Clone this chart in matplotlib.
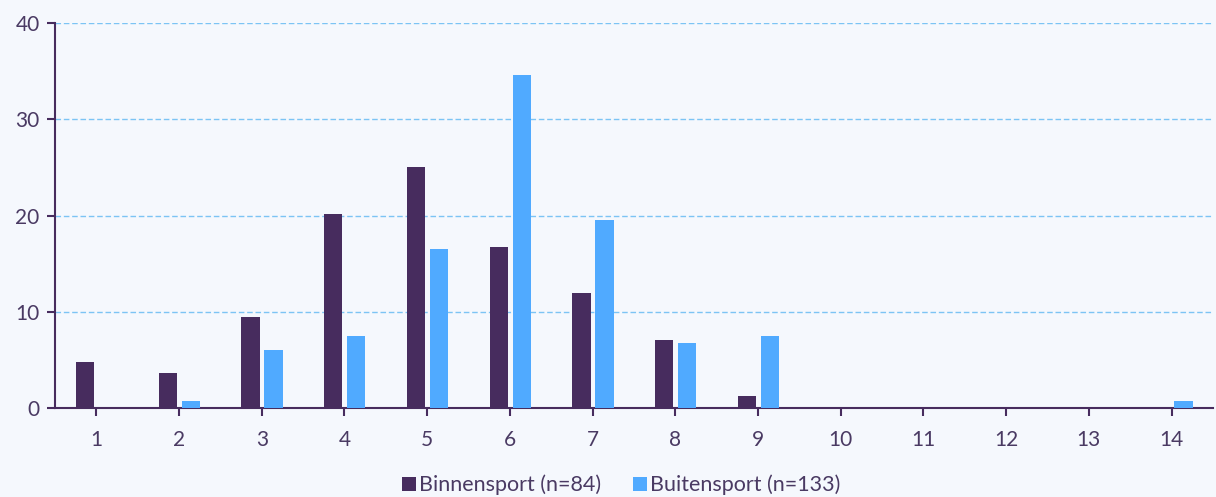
import matplotlib.pyplot as plt
import numpy as np

categorieen = list(range(1, 15))
binnensport = [4.8, 3.6, 9.5, 20.2, 25.0, 16.7, 11.9, 7.1, 1.2, 0, 0, 0, 0, 0]
buitensport = [0, 0.75, 6.0, 7.5, 16.5, 34.6, 19.5, 6.8, 7.5, 0, 0, 0, 0, 0.75]
reeks_namen = ["Binnensport (n=84)", "Buitensport (n=133)"]

paars = "#472c5e"
blauw = "#50aaff"
tekst = "#4a3a63"
achtergrond = "#f5f8fd"

plt.rcParams["font.family"] = ["Lato", "DejaVu Sans"]

fig = plt.figure(figsize=(12.16, 4.97), dpi=100, facecolor=achtergrond)
ax = fig.add_axes([0.0452, 0.179, 0.9523, 0.7747], facecolor=achtergrond)

x = np.array(categorieen)
ax.bar(x - 0.135, binnensport, width=0.22, color=paars, label=reeks_namen[0], zorder=3)
ax.bar(x + 0.143, buitensport, width=0.22, color=blauw, label=reeks_namen[1], zorder=3)

ax.set_xlim(0.5, 14.5)
ax.set_ylim(0, 40)
ax.set_xticks(categorieen)
ax.set_yticks([0, 10, 20, 30, 40])
ax.grid(axis="y", color="#7cc4f4", linestyle=(0, (4, 2)), linewidth=1, zorder=0)

for kant in ["top", "right"]:
    ax.spines[kant].set_visible(False)
for kant in ["left", "bottom"]:
    ax.spines[kant].set_color(paars)
    ax.spines[kant].set_linewidth(1.5)

ax.tick_params(axis="both", colors=paars, labelcolor=tekst, labelsize=15, length=6, width=1.5)
ax.tick_params(axis="x", pad=10)
ax.tick_params(axis="y", pad=5)

ax.legend(loc="center", bbox_to_anchor=(0.489, -0.2), ncol=2, frameon=False,
          fontsize=15.5, labelcolor=tekst, handlelength=0.65, handleheight=0.65,
          handletextpad=0.15, columnspacing=1.5, borderpad=0)

fig.savefig("out.png", dpi=100, facecolor=achtergrond)
